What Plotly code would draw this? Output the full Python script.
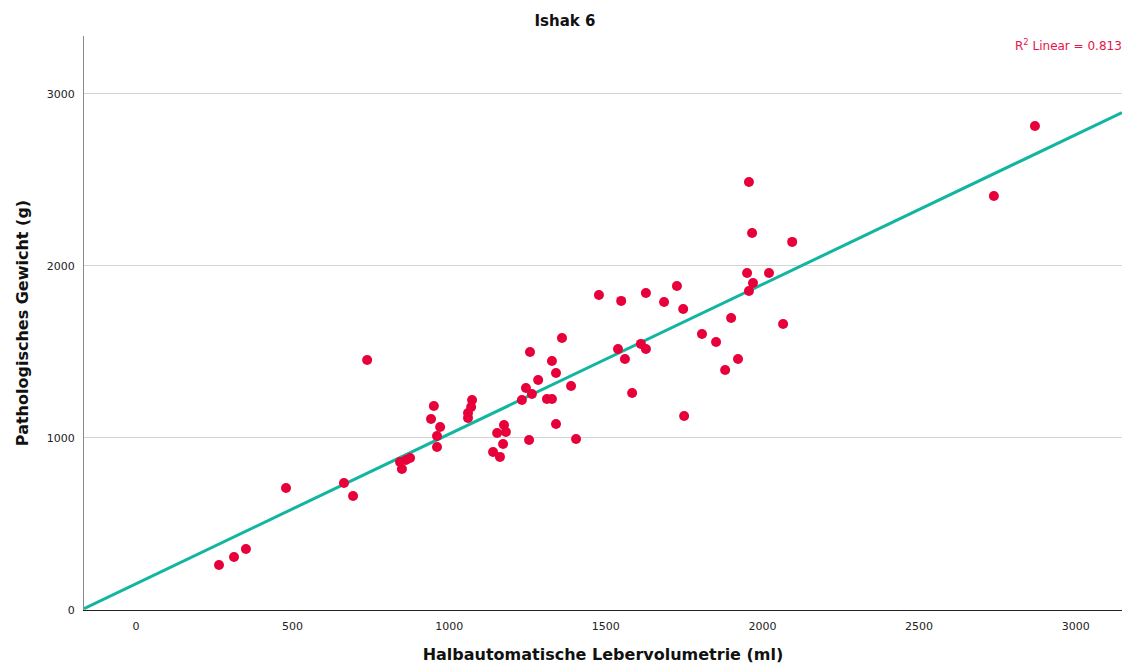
import numpy as np
import plotly.graph_objects as go

# Data (ml, g)
volume_ml = [265, 313, 351, 479, 664, 693, 738, 843, 849, 862, 875,
             951, 942, 971, 961, 961, 1073, 1070, 1060, 1060,
             1175, 1153, 1181, 1172, 1140, 1162,
             1232, 1245, 1264, 1258, 1284, 1328, 1341, 1312, 1328, 1389,
             1341, 1255, 1405, 1360,
             1478, 1549, 1628, 1686, 1727, 1747,
             1951, 2021, 1970, 1957, 1900, 2066, 1807, 1852, 1922, 1881,
             1539, 1612, 1628, 1561, 1584, 1750,
             1957, 1967, 2095, 2739, 2870]
weight_g = [262, 308, 355, 709, 738, 663, 1453, 860, 820, 872, 884,
            1186, 1110, 1064, 1012, 948, 1221, 1180, 1145, 1116,
            1076, 1029, 1035, 965, 919, 890,
            1221, 1291, 1256, 1500, 1337, 1448, 1378, 1227, 1227, 1302,
            1081, 988, 994, 1581,
            1831, 1797, 1843, 1791, 1884, 1750,
            1959, 1959, 1901, 1855, 1698, 1663, 1605, 1558, 1459, 1395,
            1517, 1547, 1517, 1459, 1262, 1128,
            2488, 2192, 2140, 2407, 2814]

x_range = [-166, 3148]
y_range = [0, 3337]
x_ticks = [0, 500, 1000, 1500, 2000, 2500, 3000]
y_ticks = [0, 1000, 2000, 3000]
title_text = "Ishak 6"
x_title = "Halbautomatische Lebervolumetrie (ml)"
y_title = "Pathologisches Gewicht (g)"
r2_label = "R<sup>2</sup> Linear = 0.813"

slope, intercept = np.polyfit(volume_ml, weight_g, 1)
fit_x = np.array(x_range, dtype=float)
fit_y = slope * fit_x + intercept

fig = go.Figure()
fig.add_trace(go.Scatter(
    x=fit_x, y=fit_y, mode="lines",
    line=dict(color="#12b5a0", width=3),
    hoverinfo="skip", showlegend=False))
fig.add_trace(go.Scatter(
    x=volume_ml, y=weight_g, mode="markers",
    marker=dict(color="#e8003a", size=10, line=dict(width=0)),
    showlegend=False))

font_family = "DejaVu Sans, Verdana, sans-serif"

fig.update_layout(
    width=1123, height=667,
    margin=dict(l=84, r=1, t=36, b=57),
    paper_bgcolor="white", plot_bgcolor="white",
    font=dict(family=font_family, color="#222222"),
    title=dict(text="<b>" + title_text + "</b>", x=565 / 1123, xanchor="center",
               y=1 - 21 / 667, yanchor="middle", yref="container",
               font=dict(size=15, color="#111111")),
    annotations=[dict(text=r2_label, xref="paper", yref="paper",
                      x=1.0, y=1 - 9 / 574, xanchor="right", yanchor="middle",
                      xshift=2, showarrow=False,
                      font=dict(size=12, color="#e8114a", family=font_family))],
)

fig.update_xaxes(
    range=x_range, tickvals=x_ticks, ticktext=[str(v) for v in x_ticks],
    showgrid=False, zeroline=False,
    showline=True, linecolor="#222222", linewidth=1,
    ticks="outside", ticklen=6, tickcolor="rgba(0,0,0,0)",
    tickfont=dict(size=11, color="#222222"),
    title=dict(text="<b>" + x_title + "</b>", font=dict(size=16, color="#111111"),
               standoff=16),
)
fig.update_yaxes(
    range=y_range, tickvals=y_ticks, ticktext=[str(v) for v in y_ticks],
    showgrid=True, gridcolor="#d4d4d4", gridwidth=1, zeroline=False,
    showline=True, linecolor="#8a8a8a", linewidth=1,
    ticks="outside", ticklen=6, tickcolor="rgba(0,0,0,0)",
    tickfont=dict(size=11, color="#222222"),
    title=dict(text="<b>" + y_title + "</b>", font=dict(size=16, color="#111111"),
               standoff=14),
)

fig.write_html("out.html")
